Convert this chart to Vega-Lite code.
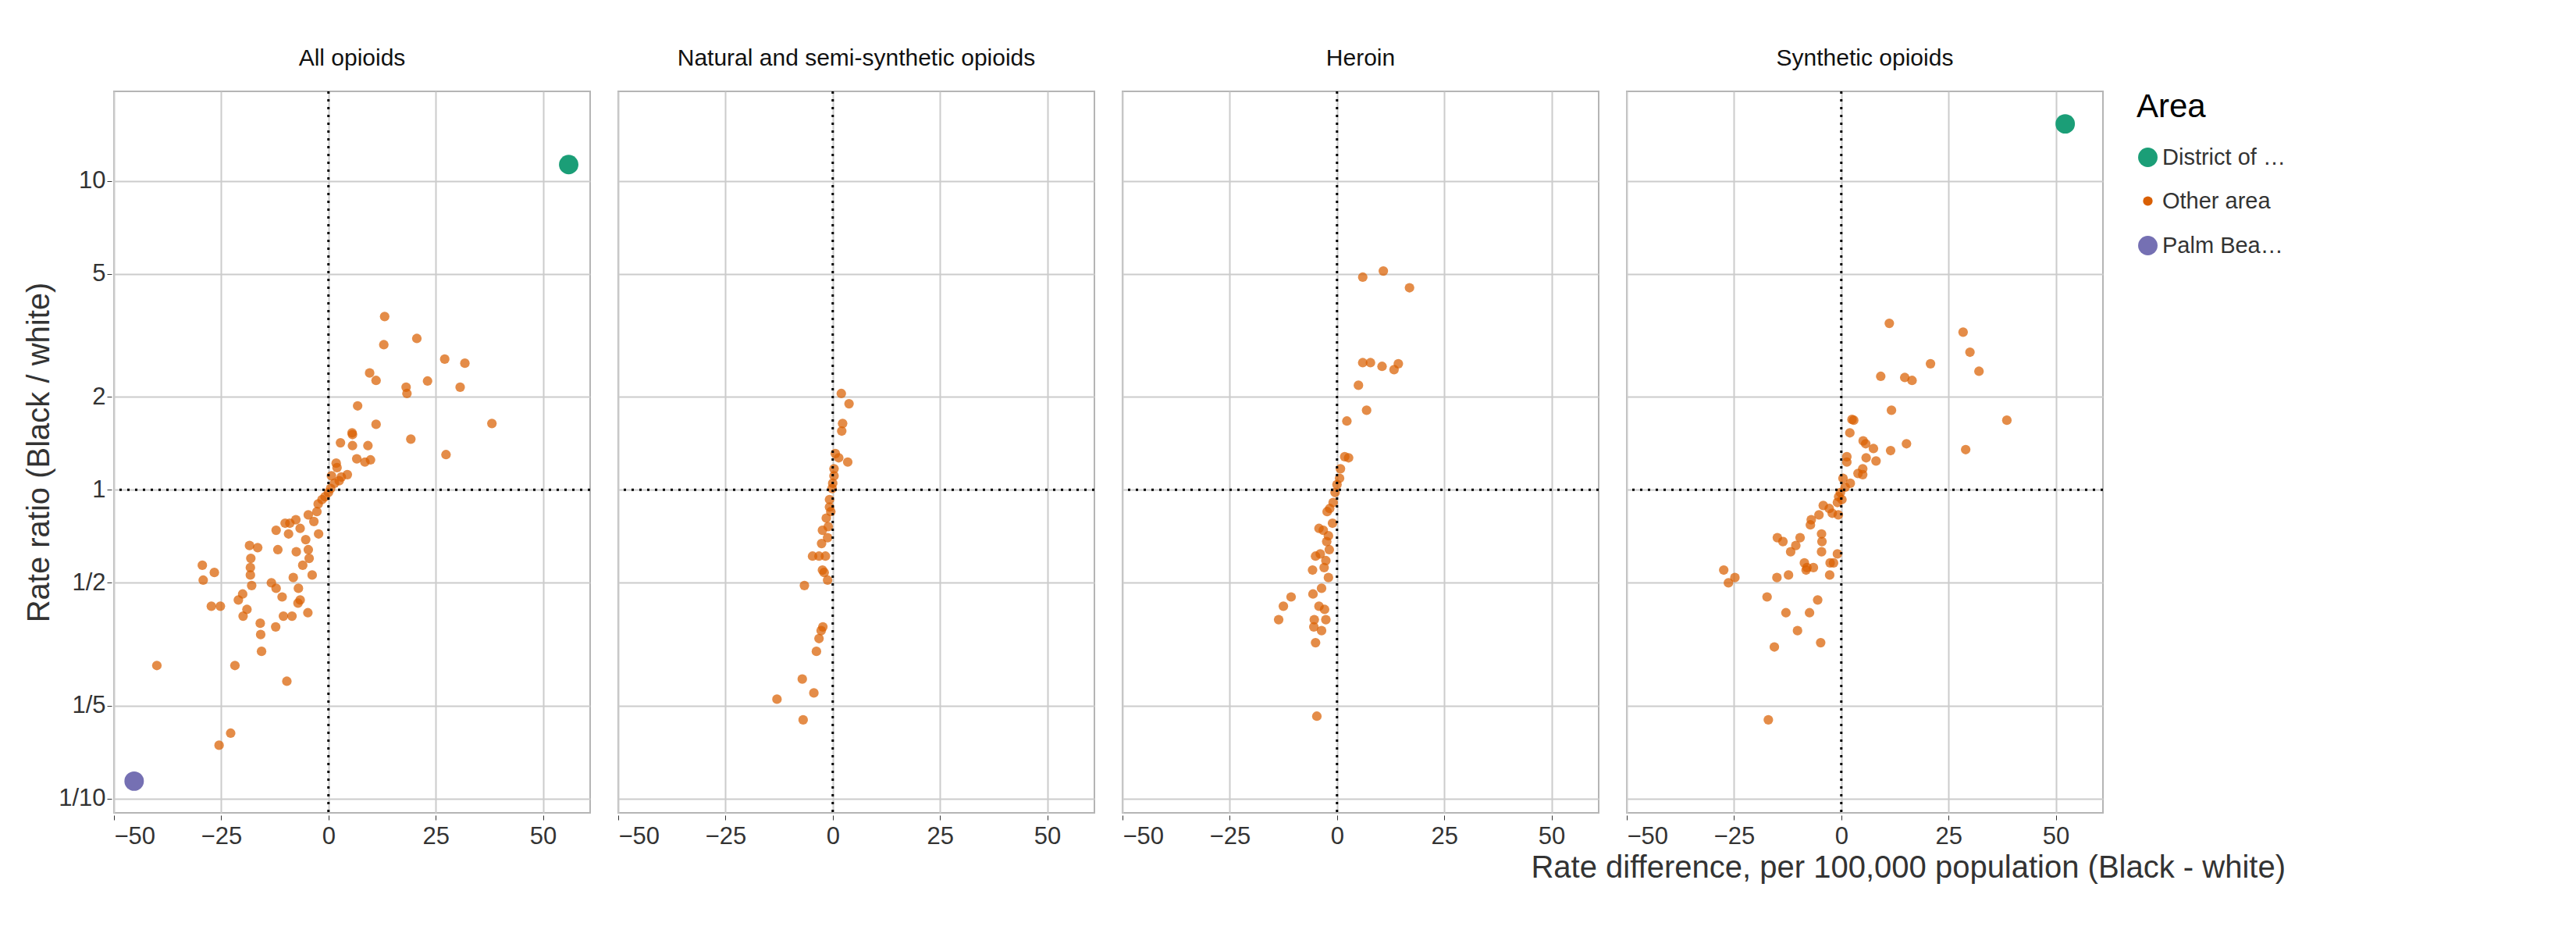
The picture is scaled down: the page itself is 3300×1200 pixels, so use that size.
{
  "$schema": "https://vega.github.io/schema/vega-lite/v6.json",
  "background": "white",
  "padding": {"left": 30, "top": 60, "right": 10, "bottom": 10},
  "config": {
    "font": "Liberation Sans",
    "view": {"stroke": "#b5b5b5", "strokeWidth": 2},
    "axis": {"grid": true, "gridColor": "#cccccc", "gridWidth": 2, "domain": false, "tickColor": "#333", "tickSize": 6, "labelFontSize": 31, "labelColor": "#333", "titleFontSize": 40, "titleFontWeight": "normal", "titleColor": "#333"},
    "header": {"labelFontSize": 30, "labelColor": "#111", "labelPadding": 24, "title": null},
    "legend": {"titleFontSize": 42, "titleFontWeight": "normal", "labelFontSize": 29, "labelColor": "#333", "rowPadding": 26, "titlePadding": 28, "symbolOpacity": 1, "offset": 40}
  },
  "title": {"text": "Rate difference, per 100,000 population (Black - white)", "orient": "bottom", "anchor": "end", "fontSize": 40, "fontWeight": "normal", "color": "#333", "offset": 6},
  "data": {"values": [
    {"p":"All opioids","a":"District of Columbia (DC)","x":56.0,"y":11.3},
    {"p":"All opioids","a":"Palm Beach County (FL)","x":-45.3,"y":0.114},
    {"p":"All opioids","a":"Other area","x":13.1,"y":3.64},
    {"p":"All opioids","a":"Other area","x":12.9,"y":2.95},
    {"p":"All opioids","a":"Other area","x":20.6,"y":3.09},
    {"p":"All opioids","a":"Other area","x":27.1,"y":2.65},
    {"p":"All opioids","a":"Other area","x":31.8,"y":2.57},
    {"p":"All opioids","a":"Other area","x":9.6,"y":2.39},
    {"p":"All opioids","a":"Other area","x":11.1,"y":2.26},
    {"p":"All opioids","a":"Other area","x":18.1,"y":2.15},
    {"p":"All opioids","a":"Other area","x":18.3,"y":2.05},
    {"p":"All opioids","a":"Other area","x":23.1,"y":2.25},
    {"p":"All opioids","a":"Other area","x":30.7,"y":2.15},
    {"p":"All opioids","a":"Other area","x":6.8,"y":1.87},
    {"p":"All opioids","a":"Other area","x":38.1,"y":1.64},
    {"p":"All opioids","a":"Other area","x":11.1,"y":1.63},
    {"p":"All opioids","a":"Other area","x":5.5,"y":1.53},
    {"p":"All opioids","a":"Other area","x":5.6,"y":1.51},
    {"p":"All opioids","a":"Other area","x":19.2,"y":1.46},
    {"p":"All opioids","a":"Other area","x":2.8,"y":1.42},
    {"p":"All opioids","a":"Other area","x":5.6,"y":1.39},
    {"p":"All opioids","a":"Other area","x":9.2,"y":1.39},
    {"p":"All opioids","a":"Other area","x":27.4,"y":1.30},
    {"p":"All opioids","a":"Other area","x":6.6,"y":1.26},
    {"p":"All opioids","a":"Other area","x":8.5,"y":1.23},
    {"p":"All opioids","a":"Other area","x":9.8,"y":1.25},
    {"p":"All opioids","a":"Other area","x":1.8,"y":1.22},
    {"p":"All opioids","a":"Other area","x":2.0,"y":1.18},
    {"p":"All opioids","a":"Other area","x":4.4,"y":1.12},
    {"p":"All opioids","a":"Other area","x":0.7,"y":1.11},
    {"p":"All opioids","a":"Other area","x":2.5,"y":1.07},
    {"p":"All opioids","a":"Other area","x":3.0,"y":1.10},
    {"p":"All opioids","a":"Other area","x":1.4,"y":1.05},
    {"p":"All opioids","a":"Other area","x":0.5,"y":1.01},
    {"p":"All opioids","a":"Other area","x":0.0,"y":0.98},
    {"p":"All opioids","a":"Other area","x":-0.8,"y":0.95},
    {"p":"All opioids","a":"Other area","x":-1.5,"y":0.93},
    {"p":"All opioids","a":"Other area","x":-2.4,"y":0.90},
    {"p":"All opioids","a":"Other area","x":-2.7,"y":0.85},
    {"p":"All opioids","a":"Other area","x":-4.7,"y":0.83},
    {"p":"All opioids","a":"Other area","x":-3.4,"y":0.79},
    {"p":"All opioids","a":"Other area","x":-7.6,"y":0.80},
    {"p":"All opioids","a":"Other area","x":-9.0,"y":0.78},
    {"p":"All opioids","a":"Other area","x":-10.1,"y":0.78},
    {"p":"All opioids","a":"Other area","x":-12.2,"y":0.74},
    {"p":"All opioids","a":"Other area","x":-9.3,"y":0.72},
    {"p":"All opioids","a":"Other area","x":-6.6,"y":0.75},
    {"p":"All opioids","a":"Other area","x":-2.3,"y":0.72},
    {"p":"All opioids","a":"Other area","x":-5.3,"y":0.69},
    {"p":"All opioids","a":"Other area","x":-18.4,"y":0.66},
    {"p":"All opioids","a":"Other area","x":-16.5,"y":0.65},
    {"p":"All opioids","a":"Other area","x":-11.8,"y":0.64},
    {"p":"All opioids","a":"Other area","x":-7.5,"y":0.63},
    {"p":"All opioids","a":"Other area","x":-4.7,"y":0.64},
    {"p":"All opioids","a":"Other area","x":-18.1,"y":0.60},
    {"p":"All opioids","a":"Other area","x":-4.5,"y":0.60},
    {"p":"All opioids","a":"Other area","x":-6.0,"y":0.57},
    {"p":"All opioids","a":"Other area","x":-29.4,"y":0.57},
    {"p":"All opioids","a":"Other area","x":-26.6,"y":0.54},
    {"p":"All opioids","a":"Other area","x":-18.2,"y":0.56},
    {"p":"All opioids","a":"Other area","x":-18.2,"y":0.53},
    {"p":"All opioids","a":"Other area","x":-8.2,"y":0.52},
    {"p":"All opioids","a":"Other area","x":-3.8,"y":0.53},
    {"p":"All opioids","a":"Other area","x":-29.2,"y":0.51},
    {"p":"All opioids","a":"Other area","x":-17.9,"y":0.49},
    {"p":"All opioids","a":"Other area","x":-13.3,"y":0.50},
    {"p":"All opioids","a":"Other area","x":-12.2,"y":0.48},
    {"p":"All opioids","a":"Other area","x":-7.0,"y":0.48},
    {"p":"All opioids","a":"Other area","x":-10.8,"y":0.45},
    {"p":"All opioids","a":"Other area","x":-20.0,"y":0.46},
    {"p":"All opioids","a":"Other area","x":-21.0,"y":0.44},
    {"p":"All opioids","a":"Other area","x":-6.6,"y":0.44},
    {"p":"All opioids","a":"Other area","x":-7.1,"y":0.43},
    {"p":"All opioids","a":"Other area","x":-27.3,"y":0.42},
    {"p":"All opioids","a":"Other area","x":-25.2,"y":0.42},
    {"p":"All opioids","a":"Other area","x":-19.0,"y":0.41},
    {"p":"All opioids","a":"Other area","x":-19.9,"y":0.39},
    {"p":"All opioids","a":"Other area","x":-4.8,"y":0.40},
    {"p":"All opioids","a":"Other area","x":-15.9,"y":0.37},
    {"p":"All opioids","a":"Other area","x":-10.5,"y":0.39},
    {"p":"All opioids","a":"Other area","x":-8.5,"y":0.39},
    {"p":"All opioids","a":"Other area","x":-12.3,"y":0.36},
    {"p":"All opioids","a":"Other area","x":-15.8,"y":0.34},
    {"p":"All opioids","a":"Other area","x":-15.6,"y":0.30},
    {"p":"All opioids","a":"Other area","x":-40.0,"y":0.27},
    {"p":"All opioids","a":"Other area","x":-21.8,"y":0.27},
    {"p":"All opioids","a":"Other area","x":-9.7,"y":0.24},
    {"p":"All opioids","a":"Other area","x":-22.8,"y":0.163},
    {"p":"All opioids","a":"Other area","x":-25.5,"y":0.149},
    {"p":"Natural and semi-synthetic opioids","a":"Other area","x":2.0,"y":2.05},
    {"p":"Natural and semi-synthetic opioids","a":"Other area","x":3.8,"y":1.90},
    {"p":"Natural and semi-synthetic opioids","a":"Other area","x":2.3,"y":1.64},
    {"p":"Natural and semi-synthetic opioids","a":"Other area","x":2.1,"y":1.55},
    {"p":"Natural and semi-synthetic opioids","a":"Other area","x":0.6,"y":1.31},
    {"p":"Natural and semi-synthetic opioids","a":"Other area","x":1.4,"y":1.27},
    {"p":"Natural and semi-synthetic opioids","a":"Other area","x":3.5,"y":1.23},
    {"p":"Natural and semi-synthetic opioids","a":"Other area","x":0.3,"y":1.17},
    {"p":"Natural and semi-synthetic opioids","a":"Other area","x":0.3,"y":1.11},
    {"p":"Natural and semi-synthetic opioids","a":"Other area","x":0.0,"y":1.05},
    {"p":"Natural and semi-synthetic opioids","a":"Other area","x":-0.15,"y":1.01},
    {"p":"Natural and semi-synthetic opioids","a":"Other area","x":-0.75,"y":0.93},
    {"p":"Natural and semi-synthetic opioids","a":"Other area","x":-0.75,"y":0.88},
    {"p":"Natural and semi-synthetic opioids","a":"Other area","x":-0.45,"y":0.85},
    {"p":"Natural and semi-synthetic opioids","a":"Other area","x":-1.5,"y":0.81},
    {"p":"Natural and semi-synthetic opioids","a":"Other area","x":-1.05,"y":0.76},
    {"p":"Natural and semi-synthetic opioids","a":"Other area","x":-2.4,"y":0.74},
    {"p":"Natural and semi-synthetic opioids","a":"Other area","x":-1.2,"y":0.70},
    {"p":"Natural and semi-synthetic opioids","a":"Other area","x":-2.6,"y":0.67},
    {"p":"Natural and semi-synthetic opioids","a":"Other area","x":-4.7,"y":0.61},
    {"p":"Natural and semi-synthetic opioids","a":"Other area","x":-3.2,"y":0.61},
    {"p":"Natural and semi-synthetic opioids","a":"Other area","x":-1.7,"y":0.61},
    {"p":"Natural and semi-synthetic opioids","a":"Other area","x":-2.4,"y":0.55},
    {"p":"Natural and semi-synthetic opioids","a":"Other area","x":-2.0,"y":0.54},
    {"p":"Natural and semi-synthetic opioids","a":"Other area","x":-1.2,"y":0.51},
    {"p":"Natural and semi-synthetic opioids","a":"Other area","x":-6.6,"y":0.49},
    {"p":"Natural and semi-synthetic opioids","a":"Other area","x":-2.3,"y":0.36},
    {"p":"Natural and semi-synthetic opioids","a":"Other area","x":-2.7,"y":0.35},
    {"p":"Natural and semi-synthetic opioids","a":"Other area","x":-3.2,"y":0.33},
    {"p":"Natural and semi-synthetic opioids","a":"Other area","x":-3.8,"y":0.30},
    {"p":"Natural and semi-synthetic opioids","a":"Other area","x":-7.1,"y":0.244},
    {"p":"Natural and semi-synthetic opioids","a":"Other area","x":-4.4,"y":0.22},
    {"p":"Natural and semi-synthetic opioids","a":"Other area","x":-13.0,"y":0.21},
    {"p":"Natural and semi-synthetic opioids","a":"Other area","x":-6.9,"y":0.18},
    {"p":"Heroin","a":"Other area","x":10.8,"y":5.11},
    {"p":"Heroin","a":"Other area","x":6.0,"y":4.88},
    {"p":"Heroin","a":"Other area","x":16.9,"y":4.51},
    {"p":"Heroin","a":"Other area","x":6.0,"y":2.58},
    {"p":"Heroin","a":"Other area","x":7.8,"y":2.58},
    {"p":"Heroin","a":"Other area","x":10.5,"y":2.51},
    {"p":"Heroin","a":"Other area","x":13.3,"y":2.45},
    {"p":"Heroin","a":"Other area","x":14.3,"y":2.56},
    {"p":"Heroin","a":"Other area","x":5.0,"y":2.18},
    {"p":"Heroin","a":"Other area","x":6.9,"y":1.81},
    {"p":"Heroin","a":"Other area","x":2.3,"y":1.67},
    {"p":"Heroin","a":"Other area","x":1.8,"y":1.28},
    {"p":"Heroin","a":"Other area","x":2.7,"y":1.27},
    {"p":"Heroin","a":"Other area","x":0.8,"y":1.17},
    {"p":"Heroin","a":"Other area","x":0.6,"y":1.09},
    {"p":"Heroin","a":"Other area","x":0.0,"y":1.04},
    {"p":"Heroin","a":"Other area","x":-0.45,"y":0.98},
    {"p":"Heroin","a":"Other area","x":-0.9,"y":0.91},
    {"p":"Heroin","a":"Other area","x":-1.7,"y":0.87},
    {"p":"Heroin","a":"Other area","x":-2.3,"y":0.85},
    {"p":"Heroin","a":"Other area","x":-1.05,"y":0.78},
    {"p":"Heroin","a":"Other area","x":-4.2,"y":0.75},
    {"p":"Heroin","a":"Other area","x":-3.2,"y":0.74},
    {"p":"Heroin","a":"Other area","x":-2.0,"y":0.71},
    {"p":"Heroin","a":"Other area","x":-2.4,"y":0.68},
    {"p":"Heroin","a":"Other area","x":-1.8,"y":0.64},
    {"p":"Heroin","a":"Other area","x":-5.0,"y":0.61},
    {"p":"Heroin","a":"Other area","x":-3.9,"y":0.62},
    {"p":"Heroin","a":"Other area","x":-2.6,"y":0.59},
    {"p":"Heroin","a":"Other area","x":-3.0,"y":0.56},
    {"p":"Heroin","a":"Other area","x":-5.7,"y":0.55},
    {"p":"Heroin","a":"Other area","x":-2.0,"y":0.52},
    {"p":"Heroin","a":"Other area","x":-3.6,"y":0.48},
    {"p":"Heroin","a":"Other area","x":-10.7,"y":0.45},
    {"p":"Heroin","a":"Other area","x":-5.6,"y":0.46},
    {"p":"Heroin","a":"Other area","x":-12.5,"y":0.42},
    {"p":"Heroin","a":"Other area","x":-4.2,"y":0.42},
    {"p":"Heroin","a":"Other area","x":-2.9,"y":0.41},
    {"p":"Heroin","a":"Other area","x":-13.6,"y":0.38},
    {"p":"Heroin","a":"Other area","x":-5.3,"y":0.38},
    {"p":"Heroin","a":"Other area","x":-2.6,"y":0.38},
    {"p":"Heroin","a":"Other area","x":-5.4,"y":0.36},
    {"p":"Heroin","a":"Other area","x":-3.6,"y":0.35},
    {"p":"Heroin","a":"Other area","x":-5.0,"y":0.32},
    {"p":"Heroin","a":"Other area","x":-4.7,"y":0.185},
    {"p":"Synthetic opioids","a":"District of Columbia (DC)","x":52.2,"y":15.3},
    {"p":"Synthetic opioids","a":"Other area","x":11.2,"y":3.46},
    {"p":"Synthetic opioids","a":"Other area","x":28.4,"y":3.24},
    {"p":"Synthetic opioids","a":"Other area","x":30.0,"y":2.79},
    {"p":"Synthetic opioids","a":"Other area","x":32.1,"y":2.42},
    {"p":"Synthetic opioids","a":"Other area","x":20.8,"y":2.56},
    {"p":"Synthetic opioids","a":"Other area","x":9.2,"y":2.33},
    {"p":"Synthetic opioids","a":"Other area","x":14.8,"y":2.31},
    {"p":"Synthetic opioids","a":"Other area","x":16.5,"y":2.26},
    {"p":"Synthetic opioids","a":"Other area","x":11.7,"y":1.81},
    {"p":"Synthetic opioids","a":"Other area","x":38.6,"y":1.68},
    {"p":"Synthetic opioids","a":"Other area","x":2.5,"y":1.69},
    {"p":"Synthetic opioids","a":"Other area","x":2.9,"y":1.68},
    {"p":"Synthetic opioids","a":"Other area","x":2.0,"y":1.53},
    {"p":"Synthetic opioids","a":"Other area","x":5.1,"y":1.44},
    {"p":"Synthetic opioids","a":"Other area","x":5.7,"y":1.41},
    {"p":"Synthetic opioids","a":"Other area","x":7.5,"y":1.36},
    {"p":"Synthetic opioids","a":"Other area","x":11.5,"y":1.34},
    {"p":"Synthetic opioids","a":"Other area","x":15.2,"y":1.41},
    {"p":"Synthetic opioids","a":"Other area","x":29.0,"y":1.35},
    {"p":"Synthetic opioids","a":"Other area","x":1.3,"y":1.28},
    {"p":"Synthetic opioids","a":"Other area","x":1.3,"y":1.23},
    {"p":"Synthetic opioids","a":"Other area","x":5.8,"y":1.27},
    {"p":"Synthetic opioids","a":"Other area","x":8.1,"y":1.24},
    {"p":"Synthetic opioids","a":"Other area","x":5.0,"y":1.17},
    {"p":"Synthetic opioids","a":"Other area","x":3.9,"y":1.13},
    {"p":"Synthetic opioids","a":"Other area","x":5.0,"y":1.12},
    {"p":"Synthetic opioids","a":"Other area","x":0.4,"y":1.09},
    {"p":"Synthetic opioids","a":"Other area","x":2.1,"y":1.05},
    {"p":"Synthetic opioids","a":"Other area","x":0.9,"y":1.02},
    {"p":"Synthetic opioids","a":"Other area","x":-0.2,"y":0.98},
    {"p":"Synthetic opioids","a":"Other area","x":-0.6,"y":0.95},
    {"p":"Synthetic opioids","a":"Other area","x":0.15,"y":0.93},
    {"p":"Synthetic opioids","a":"Other area","x":-0.9,"y":0.91},
    {"p":"Synthetic opioids","a":"Other area","x":-4.2,"y":0.89},
    {"p":"Synthetic opioids","a":"Other area","x":-2.8,"y":0.87},
    {"p":"Synthetic opioids","a":"Other area","x":-2.1,"y":0.84},
    {"p":"Synthetic opioids","a":"Other area","x":-0.7,"y":0.83},
    {"p":"Synthetic opioids","a":"Other area","x":-5.2,"y":0.83},
    {"p":"Synthetic opioids","a":"Other area","x":-7.0,"y":0.80},
    {"p":"Synthetic opioids","a":"Other area","x":-7.2,"y":0.77},
    {"p":"Synthetic opioids","a":"Other area","x":-4.6,"y":0.72},
    {"p":"Synthetic opioids","a":"Other area","x":-4.5,"y":0.68},
    {"p":"Synthetic opioids","a":"Other area","x":-14.9,"y":0.70},
    {"p":"Synthetic opioids","a":"Other area","x":-13.6,"y":0.68},
    {"p":"Synthetic opioids","a":"Other area","x":-9.6,"y":0.70},
    {"p":"Synthetic opioids","a":"Other area","x":-10.6,"y":0.66},
    {"p":"Synthetic opioids","a":"Other area","x":-11.8,"y":0.63},
    {"p":"Synthetic opioids","a":"Other area","x":-4.6,"y":0.63},
    {"p":"Synthetic opioids","a":"Other area","x":-0.9,"y":0.62},
    {"p":"Synthetic opioids","a":"Other area","x":-8.6,"y":0.58},
    {"p":"Synthetic opioids","a":"Other area","x":-8.0,"y":0.56},
    {"p":"Synthetic opioids","a":"Other area","x":-6.5,"y":0.56},
    {"p":"Synthetic opioids","a":"Other area","x":-8.2,"y":0.55},
    {"p":"Synthetic opioids","a":"Other area","x":-2.6,"y":0.58},
    {"p":"Synthetic opioids","a":"Other area","x":-1.8,"y":0.58},
    {"p":"Synthetic opioids","a":"Other area","x":-2.7,"y":0.53},
    {"p":"Synthetic opioids","a":"Other area","x":-27.4,"y":0.55},
    {"p":"Synthetic opioids","a":"Other area","x":-26.3,"y":0.50},
    {"p":"Synthetic opioids","a":"Other area","x":-24.8,"y":0.52},
    {"p":"Synthetic opioids","a":"Other area","x":-15.0,"y":0.52},
    {"p":"Synthetic opioids","a":"Other area","x":-12.3,"y":0.53},
    {"p":"Synthetic opioids","a":"Other area","x":-17.3,"y":0.45},
    {"p":"Synthetic opioids","a":"Other area","x":-5.5,"y":0.44},
    {"p":"Synthetic opioids","a":"Other area","x":-12.9,"y":0.40},
    {"p":"Synthetic opioids","a":"Other area","x":-7.4,"y":0.40},
    {"p":"Synthetic opioids","a":"Other area","x":-10.2,"y":0.35},
    {"p":"Synthetic opioids","a":"Other area","x":-15.6,"y":0.31},
    {"p":"Synthetic opioids","a":"Other area","x":-4.8,"y":0.32},
    {"p":"Synthetic opioids","a":"Other area","x":-17.0,"y":0.18}
  ]},
  "facet": {
    "column": {"field": "p", "type": "nominal", "title": null,
      "sort": ["All opioids", "Natural and semi-synthetic opioids", "Heroin", "Synthetic opioids"]}
  },
  "spacing": 30,
  "spec": {
    "width": 610,
    "height": 924,
    "layer": [
      {
        "mark": {"type": "circle"},
        "encoding": {
          "x": {"field": "x", "type": "quantitative", "title": null,
            "scale": {"domain": [-50, 61], "nice": false, "zero": false},
            "axis": {"values": [-50, -25, 0, 25, 50], "labelPadding": 6, "grid": true}},
          "y": {"field": "y", "type": "quantitative", "title": "Rate ratio (Black / white)",
            "scale": {"type": "log", "domain": [0.09, 19.5], "nice": false},
            "axis": {"values": [0.1, 0.2, 0.5, 1, 2, 5, 10], "grid": true,
              "labelExpr": "datum.value == 0.1 ? '1/10' : datum.value == 0.2 ? '1/5' : datum.value == 0.5 ? '1/2' : format(datum.value, 'd')"}},
          "color": {"field": "a", "type": "nominal", "title": "Area",
            "scale": {"domain": ["District of Columbia (DC)", "Other area", "Palm Beach County (FL)"], "range": ["#1b9e77", "#d95f02", "#7570b3"]}},
          "size": {"field": "a", "type": "nominal", "title": "Area",
            "scale": {"type": "ordinal", "domain": ["District of Columbia (DC)", "Other area", "Palm Beach County (FL)"], "range": [620, 150, 620]}},
          "opacity": {"condition": {"test": "datum.a == 'Other area'", "value": 0.72}, "value": 1},
          "order": {"field": "a", "sort": "descending"}
        }
      },
      {
        "transform": [{"aggregate": [{"op": "count", "as": "n"}], "groupby": ["p"]}],
        "mark": {"type": "rule", "color": "black", "strokeWidth": 3, "strokeDash": [3, 7]},
        "encoding": {"x": {"datum": 0, "type": "quantitative"}}
      },
      {
        "transform": [{"aggregate": [{"op": "count", "as": "n"}], "groupby": ["p"]}],
        "mark": {"type": "rule", "color": "black", "strokeWidth": 3, "strokeDash": [3, 7]},
        "encoding": {"y": {"datum": 1, "type": "quantitative"}}
      }
    ]
  }
}
